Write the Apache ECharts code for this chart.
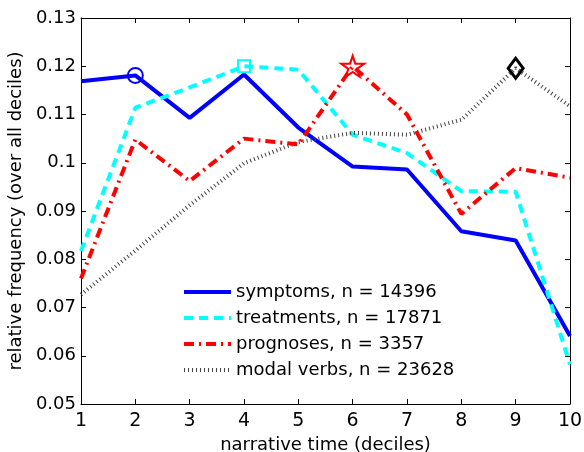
<!DOCTYPE html>
<html>
<head>
<meta charset="utf-8">
<style>
  html, body { margin: 0; padding: 0; background: #fff; }
  #chart { width: 584px; height: 452px; }
</style>
<script src="https://cdn.jsdelivr.net/npm/echarts@6/dist/echarts.min.js"></script>
</head>
<body>
<div id="chart"></div>
<script>
// 数据：叙事时间（十分位）上的相对频率
const deciles = [1, 2, 3, 4, 5, 6, 7, 8, 9, 10];
const symptoms = [0.1169, 0.1181, 0.1093, 0.1183, 0.1073, 0.0992, 0.0986, 0.0858, 0.0839, 0.0641];
const treatments = [0.0817, 0.1114, 0.1156, 0.1200, 0.1193, 0.1058, 0.1020, 0.0941, 0.0940, 0.0582];
const prognoses = [0.0760, 0.1048, 0.0962, 0.1050, 0.1038, 0.1200, 0.1100, 0.0894, 0.0989, 0.0969];
const modalVerbs = [0.0727, 0.0818, 0.0912, 0.0999, 0.1043, 0.1062, 0.1058, 0.1089, 0.1196, 0.1117];
const seriesNames = [
  'symptoms, n = 14396',
  'treatments, n = 17871',
  'prognoses, n = 3357',
  'modal verbs, n = 23628',
];
// 每条线只在最大值处标一个空心标记
const markerIndex = [1, 3, 5, 8];

const FONT = 'DejaVu Sans';
const STAR = 'path://M50,0 L61,35 L98,35 L68,57 L79,91 L50,70 L21,91 L32,57 L2,35 L39,35 Z';

function withMarker(values, idx, marker) {
  return values.map((v, i) => {
    if (i !== idx) return [deciles[i], v];
    return {
      value: [deciles[i], v],
      symbol: marker.symbol,
      symbolSize: marker.size,
      itemStyle: { color: 'rgba(0,0,0,0)', borderColor: marker.color, borderWidth: marker.border },
    };
  });
}

function lineSeries(name, values, idx, color, width, type, marker) {
  return {
    name: name,
    type: 'line',
    data: withMarker(values, idx, Object.assign({ color: marker.stroke || color }, marker)),
    symbol: 'none',
    showAllSymbol: true,
    color: color,
    lineStyle: { width: width, color: color, type: type, cap: 'butt' },
    emphasis: { disabled: true },
    z: marker.z || 2,
  };
}

const chart = echarts.init(document.getElementById('chart'));

const tickIn = { show: true, inside: true, length: 5, lineStyle: { color: '#000', width: 1 } };

chart.setOption({
  animation: false,
  backgroundColor: '#fff',
  grid: { left: 81, right: 14, top: 18, bottom: 48, containLabel: false, outerBoundsMode: 'none' },
  legend: {
    orient: 'vertical',
    left: 182,
    top: 282,
    padding: 0,
    itemWidth: 47,
    itemHeight: 14,
    itemGap: 6,
    data: seriesNames,
    // 图例只画线，不画标记
    itemStyle: { color: 'rgba(0,0,0,0)', borderColor: 'rgba(0,0,0,0)', borderWidth: 0, opacity: 0 },
    lineStyle: { width: 4 },
    textStyle: { color: '#000', fontFamily: FONT, fontSize: 18, lineHeight: 20 },
  },
  xAxis: [
    {
      type: 'value',
      min: 1,
      max: 10,
      interval: 1,
      name: 'narrative time (deciles)',
      nameLocation: 'middle',
      nameGap: 31,
      nameTextStyle: { color: '#000', fontFamily: FONT, fontSize: 18 },
      axisLine: { show: true, lineStyle: { color: '#000', width: 1 } },
      axisTick: tickIn,
      axisLabel: { margin: 8, color: '#000', fontFamily: FONT, fontSize: 19 },
      splitLine: { show: false },
    },
    {
      type: 'value',
      position: 'top',
      min: 1,
      max: 10,
      interval: 1,
      axisLine: { show: true, lineStyle: { color: '#000', width: 1 } },
      axisTick: tickIn,
      axisLabel: { show: false },
      splitLine: { show: false },
    },
  ],
  yAxis: [
    {
      type: 'value',
      min: 0.05,
      max: 0.13,
      interval: 0.01,
      name: 'relative frequency (over all deciles)',
      nameLocation: 'middle',
      nameGap: 47,
      nameTextStyle: { color: '#000', fontFamily: FONT, fontSize: 18 },
      axisLine: { show: true, lineStyle: { color: '#000', width: 1 } },
      axisTick: tickIn,
      axisLabel: {
        margin: 5,
        padding: [4, 0, 0, 0],
        color: '#000',
        fontFamily: FONT,
        fontSize: 18,
        formatter: v => String(+v.toFixed(2)),
      },
      splitLine: { show: false },
    },
    {
      type: 'value',
      position: 'right',
      min: 0.05,
      max: 0.13,
      interval: 0.01,
      axisLine: { show: true, lineStyle: { color: '#000', width: 1 } },
      axisTick: tickIn,
      axisLabel: { show: false },
      splitLine: { show: false },
    },
  ],
  series: [
    lineSeries(seriesNames[0], symptoms, markerIndex[0], '#0000ff', 4, 'solid',
      { symbol: 'circle', size: 15, border: 2 }),
    lineSeries(seriesNames[1], treatments, markerIndex[1], '#00ffff', 4, [9, 6],
      { symbol: 'rect', size: 12, border: 2 }),
    lineSeries(seriesNames[2], prognoses, markerIndex[2], '#ff0000', 4, [10, 5, 2, 5],
      { symbol: STAR, size: [23, 21], border: 2, z: 3 }),
    lineSeries(seriesNames[3], modalVerbs, markerIndex[3], '#444444', 4, [1, 3],
      { symbol: 'diamond', size: [15, 20], border: 3, stroke: '#000000' }),
  ],
});
</script>
</body>
</html>
